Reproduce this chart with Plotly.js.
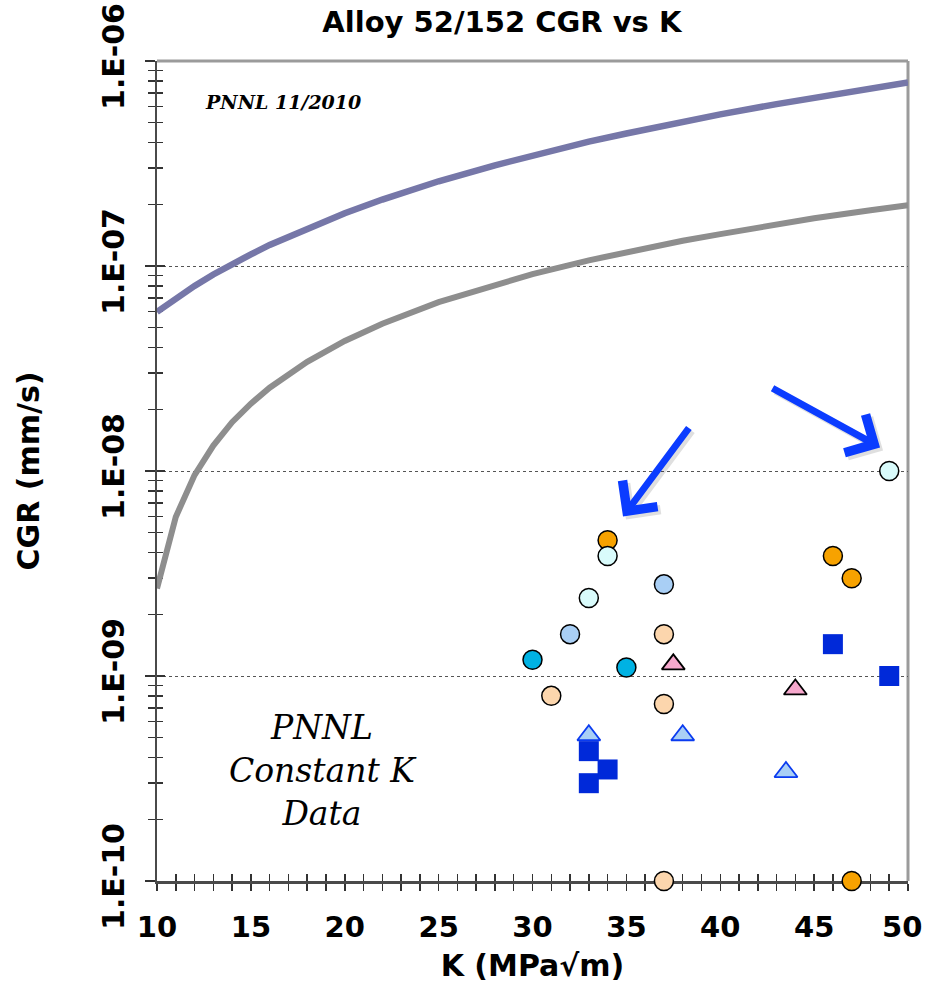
<!DOCTYPE html>
<html>
<head>
<meta charset="utf-8">
<script src="https://cdn.plot.ly/plotly-3.0.1.min.js"></script>
<style>html,body{margin:0;padding:0;background:#fff;} #chart{width:926px;height:988px;}</style>
</head>
<body>
<div id="chart"></div>
<script>
// ---- Data ----
// Reference curves (upper: blue-grey, lower: grey)
const kCurve = [10, 11, 12, 13, 14, 15, 16, 18, 20, 22, 25, 28, 30, 33, 35, 38, 40, 43, 45, 48, 50];
const cgrUpper = [5.97e-8, 6.96e-8, 8.0e-8, 9.09e-8, 1.023e-7, 1.14e-7, 1.267e-7, 1.529e-7, 1.81e-7, 2.109e-7, 2.59e-7, 3.10e-7, 3.46e-7, 4.04e-7, 4.43e-7, 5.06e-7, 5.49e-7, 6.16e-7, 6.63e-7, 7.35e-7, 7.86e-7];
const cgrLower = [2.67e-9, 5.97e-9, 9.55e-9, 1.33e-8, 1.73e-8, 2.13e-8, 2.55e-8, 3.41e-8, 4.31e-8, 5.23e-8, 6.66e-8, 8.12e-8, 9.13e-8, 1.066e-7, 1.17e-7, 1.327e-7, 1.43e-7, 1.596e-7, 1.71e-7, 1.872e-7, 1.98e-7];

// Constant K data points
const kOrange = [34, 46, 47, 47];
const cgrOrange = [4.6e-9, 3.85e-9, 3.0e-9, 1.0e-10];
const kLightCyan = [34, 33, 49];
const cgrLightCyan = [3.85e-9, 2.4e-9, 1.0e-8];
const kLightBlue = [37, 32];
const cgrLightBlue = [2.8e-9, 1.6e-9];
const kPeach = [37, 31, 37, 37];
const cgrPeach = [1.6e-9, 8.0e-10, 7.3e-10, 1.0e-10];
const kCyan = [30, 35];
const cgrCyan = [1.2e-9, 1.1e-9];
const kPinkTri = [37.5, 44];
const cgrPinkTri = [1.14e-9, 8.6e-10];
const kBlueTri = [33, 38, 43.5];
const cgrBlueTri = [5.14e-10, 5.14e-10, 3.4e-10];
const kSquare = [33, 34, 33, 46, 49];
const cgrSquare = [4.3e-10, 3.5e-10, 3.0e-10, 1.43e-9, 1.0e-9];

// Axis ticks
const xTickVals = [10, 11, 12, 13, 14, 15, 16, 17, 18, 19, 20, 21, 22, 23, 24, 25, 26, 27, 28, 29, 30, 31, 32, 33, 34, 35, 36, 37, 38, 39, 40, 41, 42, 43, 44, 45, 46, 47, 48, 49, 50];
const xLabelVals = [10, 15, 20, 25, 30, 35, 40, 45, 50];
const yTickVals = [1e-10, 1e-9, 1e-8, 1e-7, 1e-6];
const yTickText = ['1.E-10', '1.E-09', '1.E-08', '1.E-07', '1.E-06'];
const yMinorMult = [2, 3, 4, 5, 6, 7, 8, 9];

// ---- Build ----
const xLast = xLabelVals[xLabelVals.length - 1];   // drawn as an edge-anchored label so it stays on the page
const xTickText = xTickVals.map(v => (xLabelVals.indexOf(v) >= 0 && v !== xLast) ? String(v) : '');
const yMinorVals = [];
yTickVals.slice(0, 4).forEach(d => yMinorMult.forEach(m => yMinorVals.push(d * m)));

const SANS = 'DejaVu Sans, Verdana, sans-serif';
const SERIF = 'DejaVu Serif, Georgia, serif';
const edge = {color: '#000', width: 1.5};
const P = {xaxis: 'x2', yaxis: 'y2'};
const tickFont = {family: SANS, size: 29, weight: 'bold', color: '#000'};

function circles(x, y, fill) {
  return Object.assign({type: 'scatter', mode: 'markers', x: x, y: y, cliponaxis: false, hoverinfo: 'skip',
    marker: {symbol: 'circle', size: 19, color: fill, line: edge}}, P);
}

const traces = [
  {type: 'scatter', mode: 'lines', x: kCurve, y: cgrUpper,
   line: {color: '#7677a8', width: 6.5}, hoverinfo: 'skip'},
  {type: 'scatter', mode: 'lines', x: kCurve, y: cgrLower,
   line: {color: '#8e8e8e', width: 6}, hoverinfo: 'skip'},
  circles(kOrange, cgrOrange, '#f7a200'),
  circles(kLightCyan, cgrLightCyan, '#d9fbfb'),
  circles(kLightBlue, cgrLightBlue, '#a9cff5'),
  circles(kPeach, cgrPeach, '#fcd6ad'),
  circles(kCyan, cgrCyan, '#00b2e3'),
  Object.assign({type: 'scatter', mode: 'markers', x: kPinkTri, y: cgrPinkTri, cliponaxis: false, hoverinfo: 'skip',
   marker: {symbol: 'triangle-up', size: 20, color: '#f7a8cd', line: {color: '#000', width: 1.8}}}, P),
  Object.assign({type: 'scatter', mode: 'markers', x: kBlueTri, y: cgrBlueTri, cliponaxis: false, hoverinfo: 'skip',
   marker: {symbol: 'triangle-up', size: 20, color: '#a9cff5', line: {color: '#0a3bf0', width: 1.8}}}, P),
  Object.assign({type: 'scatter', mode: 'markers', x: kSquare, y: cgrSquare, cliponaxis: false, hoverinfo: 'skip',
   marker: {symbol: 'square', size: 20, color: '#0029d9', line: {color: '#0029d9', width: 0}}}, P)
];

const arrowCommon = {showarrow: true, arrowhead: 4, arrowsize: 1.2, arrowwidth: 7, text: '',
  xref: 'x', yref: 'y', axref: 'pixel', ayref: 'pixel'};

const layout = {
  width: 926, height: 988,
  margin: {l: 157, r: 18, t: 61, b: 107, pad: 0},
  paper_bgcolor: '#fff', plot_bgcolor: '#fff',
  showlegend: false,
  title: {text: 'Alloy 52/152 CGR vs K', font: {family: SANS, size: 29, weight: 'bold', color: '#000'},
    x: 0.542, xref: 'container', xanchor: 'center', y: 0.978, yref: 'container', yanchor: 'middle'},
  xaxis: {range: [10, 50], tickmode: 'array', tickvals: xTickVals, ticktext: xTickText,
    ticks: 'outside', ticklen: 7, tickwidth: 1.5, tickcolor: '#333', layer: 'below traces',
    showline: true, linecolor: '#4a4a4a', linewidth: 2.5, showgrid: false, zeroline: false,
    tickfont: tickFont, ticklabelstandoff: 12,
    title: {text: 'K (MPa√m)', font: {family: SANS, size: 30, weight: 'bold', color: '#000'}, standoff: 12},
    fixedrange: true},
  yaxis: {type: 'log', range: [-10, -6], tickmode: 'array', tickvals: yTickVals, ticktext: yTickText,
    tickangle: -90, ticks: 'outside', ticklen: 10, tickwidth: 1.5, tickcolor: '#333', layer: 'below traces',
    showline: true, linecolor: '#4a4a4a', linewidth: 2.5, zeroline: false,
    showgrid: true, gridcolor: '#555', griddash: 'dot', gridwidth: 1,
    minor: {tickvals: yMinorVals, ticks: 'outside', ticklen: 7, tickwidth: 1.5, tickcolor: '#333', showgrid: false},
    tickfont: {family: SANS, size: 30, weight: 'bold', color: '#000'}, ticklabelstandoff: 9, ticklabeloverflow: 'allow',
    title: {text: 'CGR (mm/s)', font: {family: SANS, size: 30, weight: 'bold', color: '#000'}, standoff: 47},
    fixedrange: true},
  xaxis2: {range: [10, 50], overlaying: 'x', anchor: 'y2', side: 'bottom', tickmode: 'array', tickvals: xTickVals,
    showticklabels: false, ticks: 'inside', ticklen: 7, tickwidth: 1.5, tickcolor: '#333', layer: 'below traces',
    showline: false, showgrid: false, zeroline: false, fixedrange: true},
  yaxis2: {type: 'log', range: [-10, -6], overlaying: 'y', anchor: 'x2', side: 'left', tickmode: 'array', tickvals: yTickVals,
    showticklabels: false, ticks: 'inside', ticklen: 8, tickwidth: 1.5, tickcolor: '#333', layer: 'below traces',
    minor: {tickvals: yMinorVals, ticks: 'inside', ticklen: 6, tickwidth: 1.5, tickcolor: '#333', showgrid: false},
    showline: false, showgrid: false, zeroline: false, fixedrange: true},
  shapes: [
    {type: 'line', xref: 'x domain', yref: 'y domain', x0: 0, x1: 1, y0: 1, y1: 1, line: {color: '#9b9b9b', width: 3}, layer: 'below'},
    {type: 'line', xref: 'x domain', yref: 'y domain', x0: 1, x1: 1, y0: 0, y1: 1, line: {color: '#9b9b9b', width: 3}, layer: 'below'}
  ],
  annotations: [
    Object.assign({}, arrowCommon, {x: 34.82, y: -8.222, ax: 67, ay: -90, arrowcolor: 'rgba(0,0,0,0.12)', xshift: 3, yshift: -3}),
    Object.assign({}, arrowCommon, {x: 48.51, y: -7.885, ax: -109, ay: -60, arrowcolor: 'rgba(0,0,0,0.12)', xshift: 3, yshift: -3}),
    Object.assign({}, arrowCommon, {x: 34.82, y: -8.222, ax: 67, ay: -90, arrowcolor: '#0b3cff'}),
    Object.assign({}, arrowCommon, {x: 48.51, y: -7.885, ax: -109, ay: -60, arrowcolor: '#0b3cff'}),
    {x: xLast, y: 0, xref: 'x', yref: 'paper', xanchor: 'right', yanchor: 'top', xshift: 16, yshift: -27,
     showarrow: false, text: String(xLast), font: tickFont},
    {x: 12.45, y: -6.2, xref: 'x', yref: 'y', xanchor: 'left', yanchor: 'middle', showarrow: false,
     text: 'PNNL 11/2010', font: {family: SERIF, size: 19, weight: 'bold', style: 'italic', color: '#000'}},
    {x: 18.84, y: -9.463, xref: 'x', yref: 'y', xanchor: 'center', yanchor: 'middle', showarrow: false, align: 'center',
     text: 'PNNL<br>Constant K<br>Data', font: {family: SERIF, size: 33, style: 'italic', color: '#000'}}
  ]
};

Plotly.newPlot('chart', traces, layout, {staticPlot: true, displayModeBar: false});
</script>
</body>
</html>
